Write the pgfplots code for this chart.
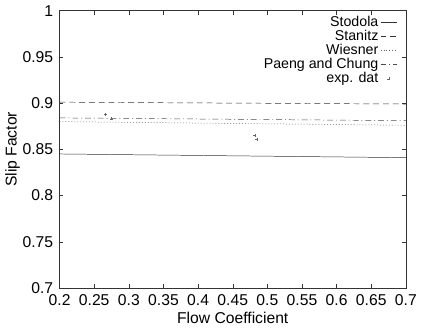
\documentclass[border=0pt]{standalone}
\usepackage{pgfplots}
\pgfplotsset{compat=1.18}
\usepackage{fontspec}
\setmainfont{Liberation Sans}
\begin{document}
\fontsize{16}{18}\selectfont
\begin{tikzpicture}
\begin{axis}[
  scale only axis,
  width=352bp, height=282bp,
  xmin=0.2, xmax=0.7, ymin=0.7, ymax=1,
  xtick={0.2,0.25,...,0.71},
  ytick={0.7,0.75,...,1.01},
  xticklabels={0.2,0.25,0.3,0.35,0.4,0.45,0.5,0.55,0.6,0.65,0.7},
  yticklabels={0.7,0.75,0.8,0.85,0.9,0.95,1},
  /pgf/number format/assume math mode=true,
  tick label style={font=\fontsize{16}{18}\selectfont},
  xticklabel style={yshift=-1pt},
  yticklabel style={xshift=-1pt},
  label style={font=\fontsize{16}{18}\selectfont},
  xlabel={Flow Coefficient},
  ylabel={Slip Factor},
  xlabel style={yshift=4pt},
  ylabel style={yshift=-8pt},
  axis line style={black!80, line width=0.5pt},
  tick style={black!80, line width=0.4pt},
  major tick length=4pt,
  legend style={draw=none, fill=none, at={(0.985,0.99)}, anchor=north east,
    font=\fontsize{14.5}{15}\selectfont, row sep=0.5pt,
    nodes={inner ysep=0.5pt}},
  legend cell align=right,
  legend plot pos=right,
  legend image post style={line width=0.5pt},
]
\addplot[black!80, line width=0.5pt] coordinates {(0.2,0.845) (0.7,0.841)};
\addlegendentry{Stodola}
\addplot[black!80, line width=0.5pt, dash pattern=on 6pt off 4pt] coordinates {(0.2,0.901) (0.7,0.899)};
\addlegendentry{Stanitz}
\addplot[black!60, line width=0.5pt, dash pattern=on 1pt off 2pt] coordinates {(0.2,0.880) (0.7,0.876)};
\addlegendentry{Wiesner}
\addplot[black!70, line width=0.5pt, dash pattern=on 6pt off 3pt on 1pt off 3pt] coordinates {(0.2,0.884) (0.7,0.881)};
\addlegendentry{Paeng and Chung}
\addplot[only marks, mark=+, mark size=1.5pt, black!60, line width=0.3pt] coordinates {(0.266,0.888) (0.275,0.883) (0.482,0.865) (0.485,0.861)};
\addlegendentry{exp. dat}
\end{axis}
\end{tikzpicture}
\end{document}
